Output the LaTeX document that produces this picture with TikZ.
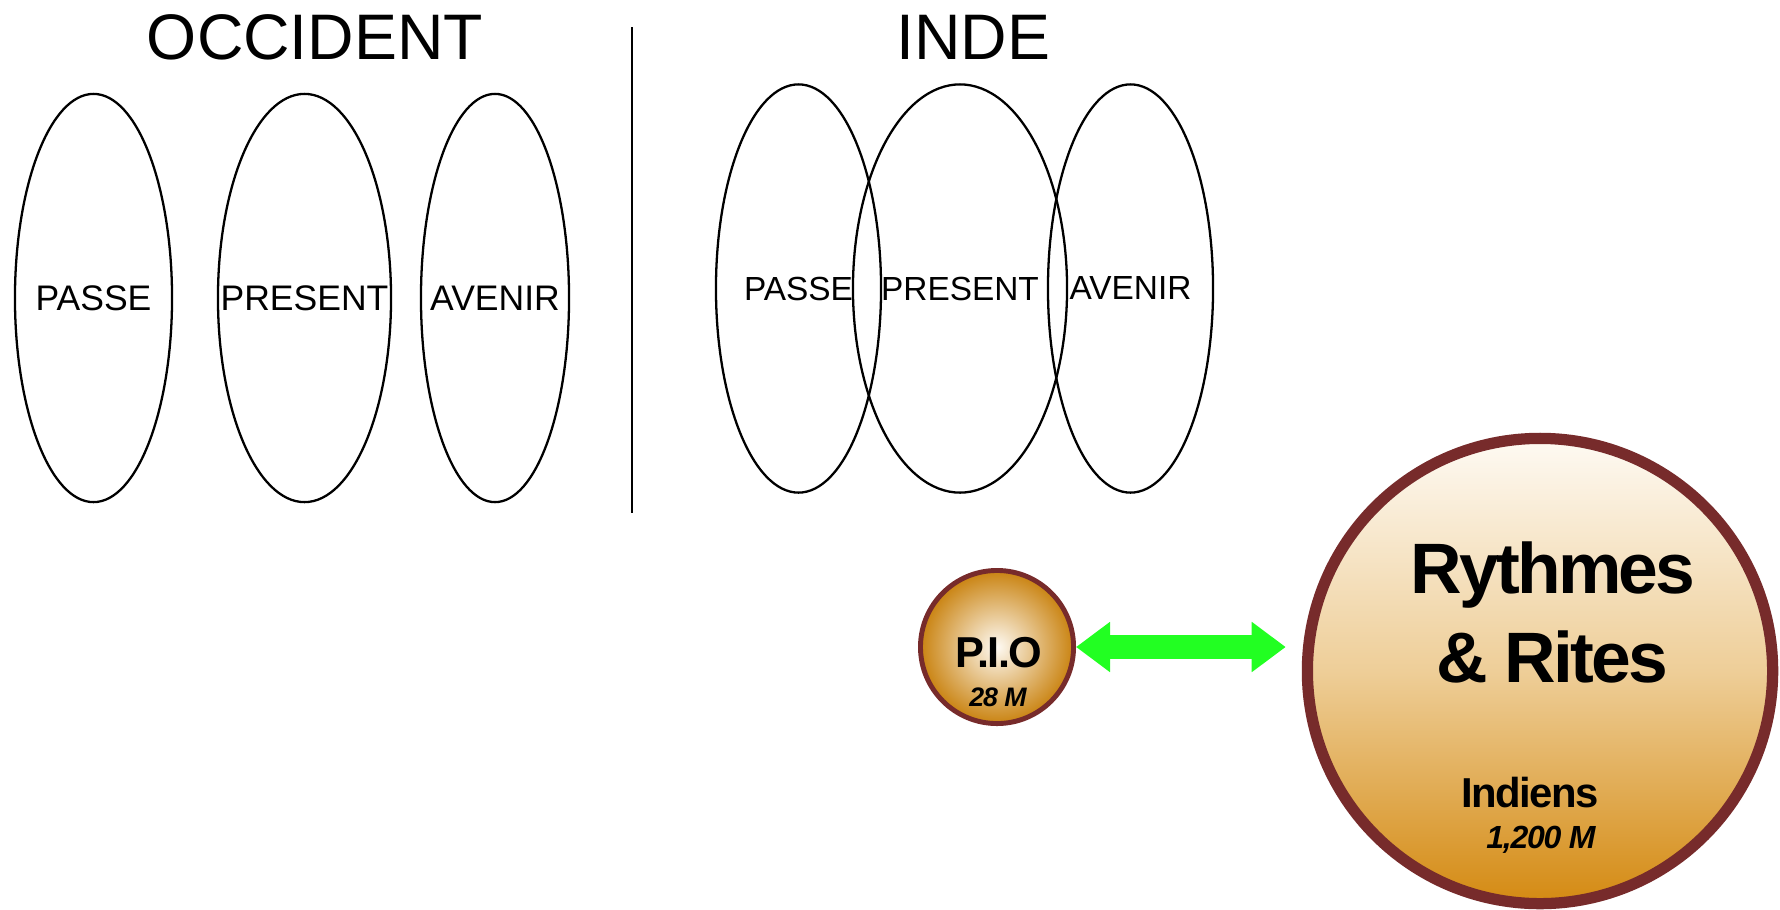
\documentclass[tikz,border=0pt]{standalone}
\usepackage{fontspec}
\setmainfont{Liberation Sans}
\newfontfamily\tightfont[LetterSpace=-4]{Liberation Sans}
\usetikzlibrary{shapes.geometric,arrows.meta}
\definecolor{rimred}{RGB}{119,43,43}
\definecolor{goldlo}{RGB}{212,138,18}
\definecolor{goldmid}{RGB}{238,206,152}
\definecolor{goldhi}{RGB}{254,250,243}
\definecolor{arrowgreen}{RGB}{34,255,34}
\tikzset{oval/.style={ellipse, draw, line width=0.65pt, inner sep=0pt, minimum height=4.08cm},
  heading/.style={anchor=base, font=\fontsize{18.3}{20}\selectfont},
  tense/.style={font=\fontsize{10.1}{12}\selectfont},
  tensei/.style={font=\fontsize{9.5}{12}\selectfont},
  ball/.style={circle, draw=rimred, inner sep=0pt},
  bigword/.style={anchor=base, font=\tightfont\bfseries\fontsize{20.3}{22}\selectfont},
  fatarrow/.style={arrowgreen, line width=0.24cm, {Triangle[length=0.34cm, width=0.48cm]}-{Triangle[length=0.34cm, width=0.48cm]}}}

\begin{document}
\begin{tikzpicture}[x=0.01cm, y=-0.01cm]
       \useasboundingbox (0,0) rectangle (1780,909);
       \begin{scope}
        \node[heading] (west) at (315,59) {OCCIDENT};
        \node[oval, minimum width=1.57cm] (wPast) at (93.5,298) {};
        \node[oval, minimum width=1.73cm] (wNow) at (304.5,298) {};
        \node[oval, minimum width=1.48cm] (wNext) at (495,298) {};
        \node[tense] (wPastTxt) at (wPast) {PASSE};
        \node[tense] (wNowTxt) at (wNow) {PRESENT};
        \node[tense] (wNextTxt) at (wNext) {AVENIR};
       \end{scope}
       \coordinate (divTop) at (632,27);
       \coordinate (divBot) at (632,513);
       \draw[line width=0.6pt] (divTop) -- (divBot);
       \begin{scope}
        \node[heading] (india) at (973.5,59) {INDE};
        \node[oval, minimum width=1.65cm] (iPast) at (798.5,288.5) {};
        \node[oval, minimum width=2.14cm] (iNow) at (960,288.5) {};
        \node[oval, minimum width=1.65cm] (iNext) at (1130.5,288.5) {};
        \node[tensei] (iPastTxt) at (iPast) {PASSE};
        \node[tensei] (iNowTxt) at (iNow) {PRESENT};
        \node[tensei] (iNextTxt) at (iNext) {AVENIR};
       \end{scope}
       \begin{scope}
        \node[ball, line width=1.4pt, minimum size=1.53cm, inner color=goldhi, outer color=goldlo!95!black] (pio) at (997,647) {};
        \node[anchor=base, font=\tightfont\bfseries\fontsize{12.3}{14}\selectfont] (pioName) at (999,667) {P.I.O};
        \node[anchor=base, font=\tightfont\bfseries\itshape\fontsize{7.6}{9}\selectfont] (pioNum) at (998,706) {28 M};
        \node[ball, line width=3.2pt, minimum size=4.65cm, top color=goldhi, bottom color=goldlo, middle color=goldmid] (rites) at (1540,671) {};
        \node[bigword] (ritesA) at (1553,593) {Rythmes};
        \node[bigword] (ritesB) at (1552,682) {\& Rites};
        \node[anchor=base, font=\tightfont\bfseries\fontsize{11.9}{14}\selectfont] (ritesPeople) at (1530,807) {Indiens};
        \node[anchor=base, font=\tightfont\bfseries\itshape\fontsize{9.1}{11}\selectfont] (ritesNum) at (1541,848) {1,200 M};
        \draw[fatarrow, shorten >=0.16cm] (pio.east) -- (pio.east -| rites.west);
       \end{scope}
      \end{tikzpicture}
\end{document}
